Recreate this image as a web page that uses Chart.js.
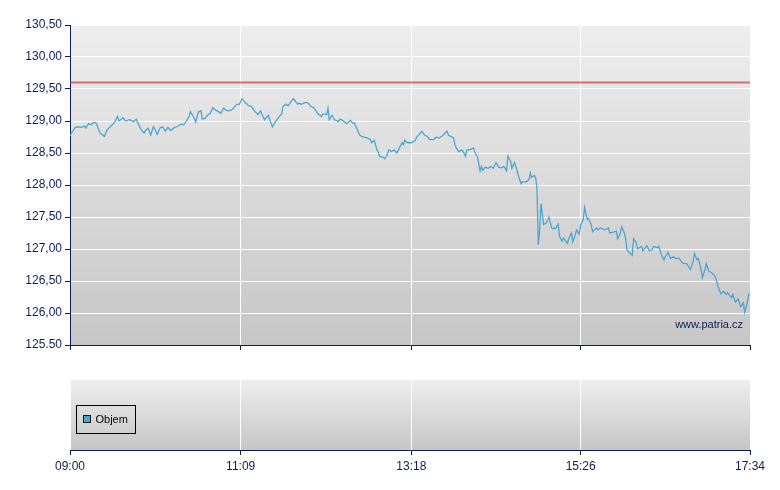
<!DOCTYPE html>
<html>
<head>
<meta charset="utf-8">
<script src="https://cdn.jsdelivr.net/npm/chart.js@4.4.1/dist/chart.umd.min.js"></script>
<style>
  body { margin: 0; background: #fff; width: 780px; height: 490px; position: relative; overflow: hidden; }
  canvas { position: absolute; left: 0; }
  #price { top: 0; }
  #volume { top: 360px; }
</style>
</head>
<body>
<canvas id="price" width="780" height="360"></canvas>
<canvas id="volume" width="780" height="130"></canvas>
<script>
// minutes since 09:00
const minutes = [
  0, 2, 4, 6, 8, 11, 12, 14, 16, 18, 20, 22, 23, 26, 28, 30, 32, 34, 36, 37, 39, 40, 42, 45, 48, 50,
  52, 54, 56, 57, 59, 61, 63, 64, 66, 68, 70, 72, 74, 76, 79, 81, 84, 86, 88, 90, 91, 94, 95, 97, 99, 100,
  102, 104, 106, 108, 110, 112, 114, 116, 118, 119, 122, 123, 126, 128, 130, 132, 135, 137, 139, 142,
  144, 145, 147, 150, 151, 153, 155, 157, 160, 161, 163, 165, 167, 169, 172, 173, 175, 178, 180, 182,
  184, 186, 187, 190, 191, 194, 195, 196, 198, 200, 203, 204, 206, 209, 212, 214, 215, 217, 219, 221,
  224, 227, 228, 230, 232, 233, 234, 237, 238, 240, 241, 243, 245, 247, 249, 251, 252, 253, 255, 258,
  261, 262, 264, 266, 268, 270, 272, 275, 277, 279, 281, 283, 285, 286, 290, 291, 292, 294, 296, 297,
  299, 300, 302, 305, 306, 308, 310, 311, 312, 314, 316, 318, 320, 322, 324, 326, 328, 330, 331, 333,
  334, 336, 338, 339, 341, 342, 345, 347, 348, 349, 351, 352, 353, 354, 355, 356, 357, 358, 360, 361,
  362, 364, 365, 367, 369, 370, 372, 373, 376, 377, 379, 380, 382, 383, 385, 386, 388, 389, 391, 392,
  394, 395, 398, 399, 401, 404, 407, 408, 410, 413, 414, 416, 417, 419, 420, 421, 423, 425, 426, 428,
  429, 432, 433, 435, 436, 438, 440, 441, 444, 445, 447, 449, 450, 452, 454, 456, 458, 460, 462, 463,
  466, 468, 469, 471, 472, 474, 475, 477, 478, 480, 481, 483, 485, 487, 488, 490, 492, 494, 496, 497,
  500, 501, 503, 505, 507, 509, 510, 512, 513, 514
];
const prices = [
  128.77, 128.84, 128.90, 128.91, 128.90, 128.92, 128.89, 128.96, 128.94, 128.98, 128.96, 128.84, 128.81,
  128.76, 128.86, 128.90, 128.94, 128.99, 129.07, 129.00, 129.03, 129.05, 129.00, 129.02, 128.99, 129.03,
  128.94, 128.86, 128.81, 128.85, 128.89, 128.78, 128.91, 128.88, 128.79, 128.89, 128.91, 128.84, 128.90,
  128.85, 128.90, 128.91, 128.95, 128.94, 129.00, 129.07, 129.15, 129.04, 128.98, 129.14, 129.16, 129.03,
  129.04, 129.09, 129.12, 129.21, 129.17, 129.15, 129.12, 129.20, 129.17, 129.16, 129.17, 129.19, 129.26,
  129.26, 129.35, 129.30, 129.24, 129.23, 129.17, 129.10,
  129.16, 129.11, 129.02, 129.09, 129.02, 128.91, 128.98, 129.04, 129.11, 129.23, 129.26, 129.24, 129.30,
  129.35, 129.26, 129.28, 129.26, 129.29, 129.28, 129.23,
  129.21, 129.16, 129.12, 129.07, 129.11, 129.10, 129.20, 129.02, 129.09, 129.02, 128.99, 129.03, 129.01,
  128.96, 129.01, 128.96, 128.97, 128.87, 128.78, 128.75,
  128.74, 128.71, 128.66, 128.70, 128.55, 128.52, 128.45, 128.43, 128.41, 128.48, 128.55, 128.52, 128.55,
  128.50, 128.58, 128.66, 128.63, 128.70, 128.66, 128.66,
  128.70, 128.75, 128.79, 128.84, 128.78, 128.76, 128.71, 128.71, 128.75, 128.73, 128.76, 128.80, 128.84,
  128.78, 128.73, 128.63, 128.58, 128.52, 128.55, 128.53,
  128.45, 128.55, 128.55, 128.58, 128.51, 128.44, 128.22, 128.29, 128.23, 128.28, 128.26, 128.29, 128.26,
  128.35, 128.28, 128.27, 128.29, 128.22, 128.45, 128.37,
  128.26, 128.35, 128.22, 128.14, 128.02, 128.05, 128.05, 128.09, 128.19, 128.12, 128.15, 128.11, 127.95,
  127.07, 127.30, 127.71, 127.54, 127.38, 127.41, 127.45,
  127.50, 127.33, 127.32, 127.32, 127.39, 127.20, 127.12, 127.17, 127.09, 127.16, 127.25, 127.11, 127.23,
  127.30, 127.23, 127.38, 127.46, 127.65, 127.46, 127.48,
  127.38, 127.27, 127.33, 127.30, 127.33, 127.30, 127.33, 127.25, 127.26, 127.28, 127.16, 127.25, 127.35,
  127.25, 127.16, 126.99, 126.94, 126.90, 127.16, 127.10,
  127.00, 127.04, 126.97, 127.02, 127.05, 126.97, 126.99, 127.04, 127.02, 127.04, 126.91, 126.83, 126.88,
  126.95, 126.85, 126.88, 126.85, 126.86, 126.81, 126.78,
  126.77, 126.71, 126.68, 126.81, 126.93, 126.83, 126.85, 126.68, 126.55, 126.68, 126.77, 126.65, 126.63,
  126.59, 126.55, 126.41, 126.30, 126.34, 126.29, 126.32,
  126.24, 126.29, 126.17, 126.22, 126.10, 126.16, 126.01, 126.17, 126.29, 126.30
];
const prevClose = 129.6;
const timeTicks = [0, 129, 258, 386, 514];
const timeLabels = ["09:00", "11:09", "13:18", "15:26", "17:34"];
const priceTicks = [125.5, 126, 126.5, 127, 127.5, 128, 128.5, 129, 129.5, 130, 130.5];
const priceLabels = ["125.50", "126,00", "126,50", "127,00", "127,50", "128,00", "128,50", "129,00", "129,50", "130,00", "130,50"];
const volumeLabel = "Objem";
const volumes = [];

const navy = "#0b1f52";
const font = { family: "'Liberation Sans', Arial, sans-serif", size: 12 };

const plotBg = {
  id: "plotBg",
  beforeDraw(chart) {
    const { ctx, chartArea: a } = chart;
    const g = ctx.createLinearGradient(0, a.top, 0, a.bottom);
    g.addColorStop(0, "#eeeeee");
    g.addColorStop(1, "#c6c6c6");
    ctx.save();
    ctx.fillStyle = g;
    ctx.fillRect(a.left, a.top, a.right - a.left, a.bottom - a.top);
    ctx.restore();
  }
};

const watermark = {
  id: "watermark",
  afterDatasetsDraw(chart) {
    const { ctx, chartArea: a } = chart;
    ctx.save();
    ctx.font = "11px 'Liberation Sans', Arial, sans-serif";
    ctx.fillStyle = navy;
    ctx.textAlign = "right";
    ctx.textBaseline = "alphabetic";
    ctx.fillText("www.patria.cz", a.right - 7, a.bottom - 17);
    ctx.restore();
  }
};

const boxLegend = {
  id: "boxLegend",
  afterDraw(chart) {
    const { ctx, chartArea: a } = chart;
    const ds = chart.data.datasets[0];
    const x = a.left + 6.5, y = a.top + 25.5;
    ctx.save();
    ctx.strokeStyle = "#000";
    ctx.lineWidth = 1;
    ctx.strokeRect(x, y, 59, 28);
    ctx.fillStyle = ds.backgroundColor;
    ctx.fillRect(x + 7, y + 10, 7, 7);
    ctx.strokeStyle = "#1a1a1a";
    ctx.strokeRect(x + 7, y + 10, 7, 7);
    ctx.fillStyle = "#000";
    ctx.font = "11px 'Liberation Sans', Arial, sans-serif";
    ctx.textBaseline = "middle";
    ctx.fillText(ds.label, x + 19, y + 14.5);
    ctx.restore();
  }
};

const setTicks = (list) => (scale) => { scale.ticks = list.map((v) => ({ value: v })); };

new Chart(document.getElementById("price"), {
  type: "line",
  data: {
    datasets: [
      {
        data: minutes.map((m, i) => ({ x: m, y: prices[i] })),
        borderColor: "#4ea6cf",
        borderWidth: 1.3,
        pointRadius: 0,
        tension: 0
      },
      {
        data: [{ x: timeTicks[0], y: prevClose }, { x: timeTicks[timeTicks.length - 1], y: prevClose }],
        borderColor: "rgba(205,60,60,0.7)",
        borderWidth: 2,
        pointRadius: 0
      }
    ]
  },
  options: {
    responsive: false,
    animation: false,
    devicePixelRatio: 1,
    layout: { padding: { top: 25, right: 30, left: 0, bottom: 0 } },
    plugins: { legend: { display: false }, tooltip: { enabled: false } },
    scales: {
      x: {
        type: "linear",
        min: 0,
        max: 514,
        afterBuildTicks: setTicks(timeTicks),
        afterFit: (s) => { s.height = 15; },
        ticks: { callback: () => "", autoSkip: false, maxRotation: 0 },
        grid: { color: "#ffffff", lineWidth: 1, tickColor: navy, tickLength: 5 },
        border: { color: navy, width: 1 }
      },
      y: {
        min: 125.5,
        max: 130.5,
        afterBuildTicks: setTicks(priceTicks),
        afterFit: (s) => { s.width = 70; },
        ticks: { callback: (v, i) => priceLabels[i], color: navy, font, padding: 3 },
        grid: { color: "#ffffff", lineWidth: 1, tickColor: navy, tickLength: 5 },
        border: { color: navy, width: 1 }
      }
    }
  },
  plugins: [plotBg, watermark]
});

new Chart(document.getElementById("volume"), {
  type: "bar",
  data: {
    datasets: [{ label: volumeLabel, data: volumes, backgroundColor: "#4ea6cf" }]
  },
  options: {
    responsive: false,
    animation: false,
    devicePixelRatio: 1,
    layout: { padding: { top: 20, right: 30, left: 0, bottom: 0 } },
    plugins: { legend: { display: false }, tooltip: { enabled: false } },
    scales: {
      x: {
        type: "linear",
        min: 0,
        max: 514,
        offset: false,
        afterBuildTicks: setTicks(timeTicks),
        afterFit: (s) => { s.height = 40; },
        ticks: { callback: (v, i) => timeLabels[i], color: navy, font, autoSkip: false, maxRotation: 0, padding: 4 },
        grid: { offset: false, color: "#ffffff", lineWidth: 1, tickColor: navy, tickLength: 5 },
        border: { color: navy, width: 1 }
      },
      y: {
        min: 0,
        max: 1,
        afterFit: (s) => { s.width = 70; },
        ticks: { display: false },
        grid: { display: false },
        border: { display: false }
      }
    }
  },
  plugins: [plotBg, boxLegend]
});
</script>
</body>
</html>
